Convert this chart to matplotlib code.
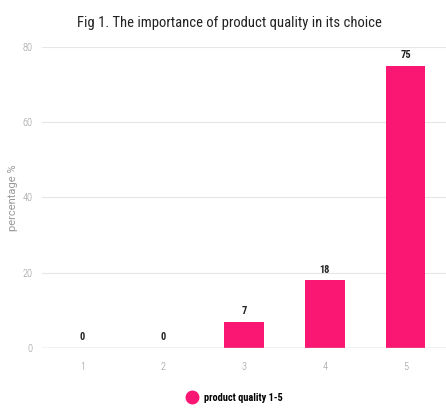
import matplotlib.pyplot as plt
from matplotlib.lines import Line2D

categories = ["1", "2", "3", "4", "5"]
values = [0, 0, 7, 18, 75]
yticks = [0, 20, 40, 60, 80]

bar_color = "#fa1673"
cond = ["Roboto Condensed", "Roboto", "DejaVu Sans"]

fig = plt.figure(figsize=(4.46, 4.11), dpi=100)
ax = fig.add_axes([0.094, 0.153, 0.906, 0.733])

x = list(range(1, len(categories) + 1))
ax.bar(x, values, width=0.49, color=bar_color, zorder=3)

for xi, v in zip(x, values):
    ax.text(xi, v + 1.5, str(v), ha="center", va="bottom", fontsize=7.5,
            fontweight="bold", family=cond, color="#222222")

ax.set_xlim(0.5, 5.5)
ax.set_ylim(0, 80)
ax.set_yticks(yticks)
ax.set_xticks(x)
ax.set_xticklabels(categories)
ax.grid(axis="y", color="#e6e6e6", linewidth=0.8, zorder=0)
ax.axhline(0, color="#c8c8c8", linewidth=1, zorder=4)
for s in ax.spines.values():
    s.set_visible(False)
ax.tick_params(length=0, colors="#9a9a9a", labelsize=7.5)
ax.tick_params(axis="x", pad=10)
ax.tick_params(axis="y", pad=7)
for lab in ax.get_xticklabels() + ax.get_yticklabels():
    lab.set_family(cond)
    lab.set_fontweight("light")

ax.set_ylabel("percentage %", color="#999999", fontsize=8, family="Roboto")
ax.yaxis.set_label_coords(-0.06, 0.5)

fig.suptitle("Fig 1. The importance of product quality in its choice",
             x=0.515, y=0.962, fontsize=10.5, family=cond, color="#222222")

handle = Line2D([], [], marker="o", linestyle="", markersize=9,
                markerfacecolor=bar_color, markeredgecolor=bar_color)
fig.legend([handle], ["product quality 1-5"], loc="center",
           bbox_to_anchor=(0.52, 0.032), frameon=False, handletextpad=0.2,
           prop={"family": cond, "weight": "bold", "size": 7.5})

fig.savefig("out.png", dpi=100)
